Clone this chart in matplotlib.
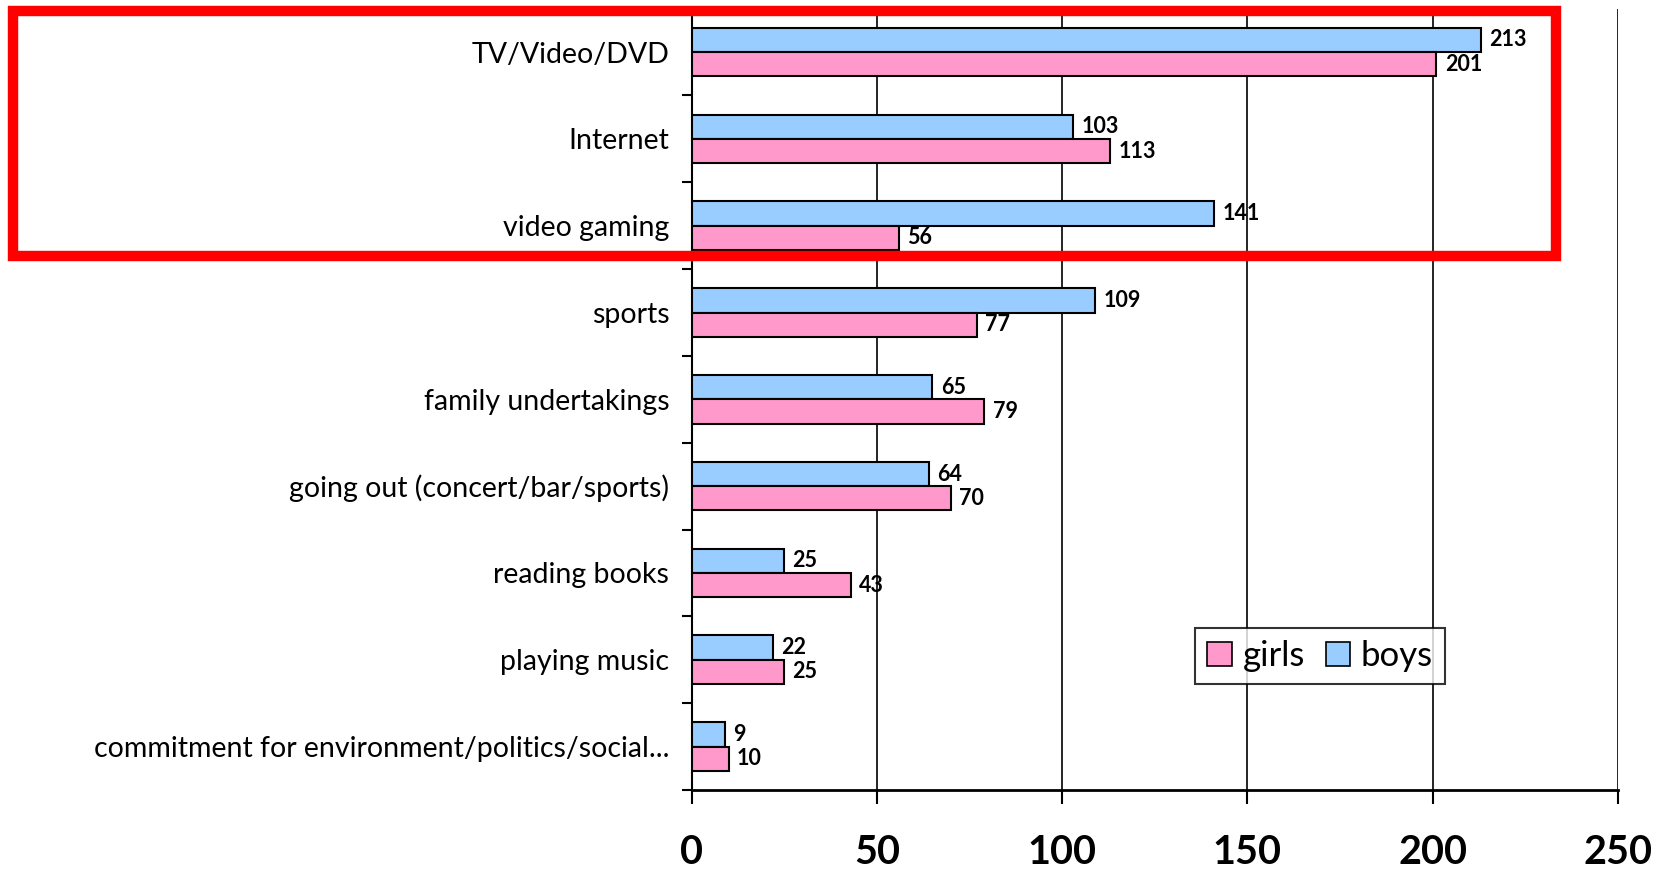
import matplotlib
matplotlib.use("Agg")
import matplotlib.pyplot as plt
from matplotlib.patches import Rectangle, Patch
import numpy as np

categories = ["TV/Video/DVD", "Internet", "video gaming", "sports", "family undertakings",
              "going out (concert/bar/sports)", "reading books", "playing music",
              "commitment for environment/politics/social..."]
boys = [213, 103, 141, 109, 65, 64, 25, 22, 9]
girls = [201, 113, 56, 77, 79, 70, 43, 25, 10]
xticks = [0, 50, 100, 150, 200, 250]

plt.rcParams['font.family'] = ['Lato', 'DejaVu Sans']

fig = plt.figure(figsize=(16.68, 8.75), dpi=100)
ax = fig.add_axes([0.4146, 0.0971, 0.5554, 0.893])

boys_c = "#99CCFF"
girls_c = "#FF99CC"
h = 0.28
y = np.arange(len(categories))
ax.barh(y - h / 2, boys, height=h, color=boys_c, edgecolor="black", linewidth=1.5, zorder=3)
ax.barh(y + h / 2, girls, height=h, color=girls_c, edgecolor="black", linewidth=1.5, zorder=3)

for yi, b, g in zip(y, boys, girls):
    ax.annotate(str(b), (b, yi - h / 2), xytext=(6, 0), textcoords="offset points",
                va="center", ha="left", fontsize=15.5, fontweight="bold", zorder=4)
    ax.annotate(str(g), (g, yi + h / 2), xytext=(6, 0), textcoords="offset points",
                va="center", ha="left", fontsize=15.5, fontweight="bold", zorder=4)

ax.set_ylim(len(categories) - 0.5, -0.5)
ax.set_xlim(0, 250)
ax.set_yticks(y)
ax.set_yticklabels(categories, fontsize=20.5)
ax.set_yticks(np.arange(-0.5, len(categories), 1), minor=True)
ax.tick_params(axis="y", which="major", length=0, pad=16)
ax.tick_params(axis="y", which="minor", length=7, width=1.5, direction="out")

ax.set_xticks(xticks)
ax.set_xticklabels([str(t) for t in xticks], fontsize=28.5, fontweight="bold")
ax.tick_params(axis="x", which="major", length=10, width=1.5, direction="out", pad=22)

ax.grid(axis="x", color="black", linewidth=1.2, zorder=0)
for s in ["top", "right"]:
    ax.spines[s].set_visible(False)
ax.spines["left"].set_linewidth(1.5)
ax.spines["bottom"].set_linewidth(2)

handles = [Patch(facecolor=girls_c, edgecolor="black", linewidth=1.2, label="girls"),
           Patch(facecolor=boys_c, edgecolor="black", linewidth=1.2, label="boys")]
leg = ax.legend(handles=handles, loc="upper left", bbox_to_anchor=(0.525, 0.23), ncol=2,
                fontsize=25, frameon=True, fancybox=False, edgecolor="black",
                handlelength=0.7, handleheight=0.7, handletextpad=0.31, columnspacing=0.6,
                borderpad=0.35)
leg.get_frame().set_linewidth(1.5)
leg.set_zorder(5)

rect = Rectangle((13 / 1668, 1 - 256 / 875), (1556 - 13) / 1668, (256 - 11) / 875,
                 transform=fig.transFigure, fill=False, edgecolor="#FF0000",
                 linewidth=7.5, zorder=10)
fig.patches.append(rect)

fig.savefig("out.png", dpi=100)
